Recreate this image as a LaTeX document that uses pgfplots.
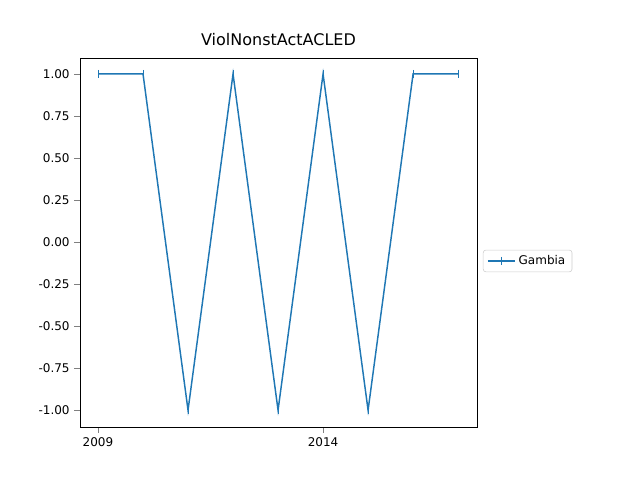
\documentclass[border=0pt]{standalone}
\usepackage{pgfplots}
\pgfplotsset{compat=1.18}
\usepackage{fontspec}
\setmainfont{DejaVu Sans}
\definecolor{mplblue}{HTML}{1F77B4}
\begin{document}
\begin{tikzpicture}
\path[use as bounding box] (0,0) rectangle (480pt,360pt);
\begin{axis}[at={(60pt,39.75pt)}, anchor=south west,
 scale only axis, width=297.75pt, height=276.75pt,
 xmin=2008.6, xmax=2017.42, ymin=-1.1, ymax=1.095,
 xtick={2009,2014}, xticklabels={2009,2014},
 ytick={-1,-0.75,-0.5,-0.25,0,0.25,0.5,0.75,1},
 yticklabel style={/pgf/number format/.cd,fixed,fixed zerofill,precision=2},
 /pgf/number format/assume math mode=true,
 tick label style={font=\small},
 tick align=outside, tick pos=left,
 title={ViolNonstActACLED},
 title style={font=\large},
 legend style={at={(1.015,0.45)}, anchor=west, font=\small, draw=black!20, rounded corners=2pt},
 legend image post style={xscale=1.2},
 legend cell align=left]
\addplot[mplblue, line width=1.1pt, mark=|, mark size=3pt, mark options={line width=0.7pt}] coordinates {
(2009,1)(2010,1)(2011,-1)(2012,1)(2013,-1)(2014,1)(2015,-1)(2016,1)(2017,1)};
\addlegendentry{Gambia}
\end{axis}
\end{tikzpicture}
\end{document}
